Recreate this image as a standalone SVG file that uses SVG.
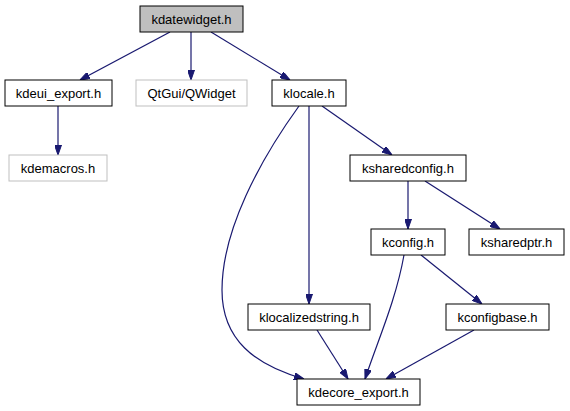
<svg xmlns="http://www.w3.org/2000/svg" width="570" height="411" viewBox="0 0 570 411">
<defs>
<style>
.n rect{fill:#fff;stroke:#000;stroke-width:1}
.n.g rect{stroke:#bfbfbf}
.n.cur rect{fill:#bfbfbf}
.n text{font-family:"Liberation Sans",Arial,sans-serif;font-size:13px;fill:#000;text-anchor:middle}
.e path{fill:none;stroke:#191970;stroke-width:1.2;marker-end:url(#ah)}
</style>
<marker id="ah" viewBox="0 0 10 7" refX="10" refY="3.5" markerWidth="10" markerHeight="7" markerUnits="userSpaceOnUse" orient="auto">
<path d="M0,0 L10,3.5 L0,7 z" fill="#191970" stroke="#191970"/>
</marker>
</defs>
<rect width="570" height="411" fill="#fff"/>
<g class="e">
<path d="M170,32 L80,80"/>
<path d="M191,32 L191,80"/>
<path d="M211,32 L290,80"/>
<path d="M58,106 L58,155"/>
<path d="M299,106 C260,160 222,230 222,290 C222,340 255,365 304,379"/>
<path d="M309,106 L309,304"/>
<path d="M322,106 L392,155"/>
<path d="M408,181 L408,229"/>
<path d="M425,181 L500,229"/>
<path d="M421,255 L482,304"/>
<path d="M404,255 C396,300 378,340 365,379"/>
<path d="M317,330 L348,379"/>
<path d="M474,330 L386,379"/>
</g>
<g id="kdatewidget" class="n cur"><rect x="140" y="6" width="103" height="26"/><text x="191.5" y="23.5">kdatewidget.h</text></g>
<g id="kdeui_export" class="n"><rect x="5" y="80" width="107" height="26"/><text x="58.5" y="97.5">kdeui_export.h</text></g>
<g id="qwidget" class="n g"><rect x="136" y="80" width="111" height="26"/><text x="191.5" y="97.5">QtGui/QWidget</text></g>
<g id="klocale" class="n"><rect x="272" y="80" width="74" height="26"/><text x="309" y="97.5">klocale.h</text></g>
<g id="kdemacros" class="n g"><rect x="9" y="155" width="98" height="26"/><text x="58" y="172.5">kdemacros.h</text></g>
<g id="ksharedconfig" class="n"><rect x="350" y="155" width="116" height="26"/><text x="408" y="172.5">ksharedconfig.h</text></g>
<g id="kconfig" class="n"><rect x="371" y="229" width="74" height="26"/><text x="408" y="246.5">kconfig.h</text></g>
<g id="ksharedptr" class="n"><rect x="469" y="229" width="95" height="26"/><text x="516.5" y="246.5">ksharedptr.h</text></g>
<g id="klocalizedstring" class="n"><rect x="248" y="304" width="122" height="26"/><text x="309" y="321.5">klocalizedstring.h</text></g>
<g id="kconfigbase" class="n"><rect x="446" y="304" width="103" height="26"/><text x="497.5" y="321.5">kconfigbase.h</text></g>
<g id="kdecore_export" class="n"><rect x="297" y="379" width="123" height="26"/><text x="358.5" y="396.5">kdecore_export.h</text></g>
</svg>
